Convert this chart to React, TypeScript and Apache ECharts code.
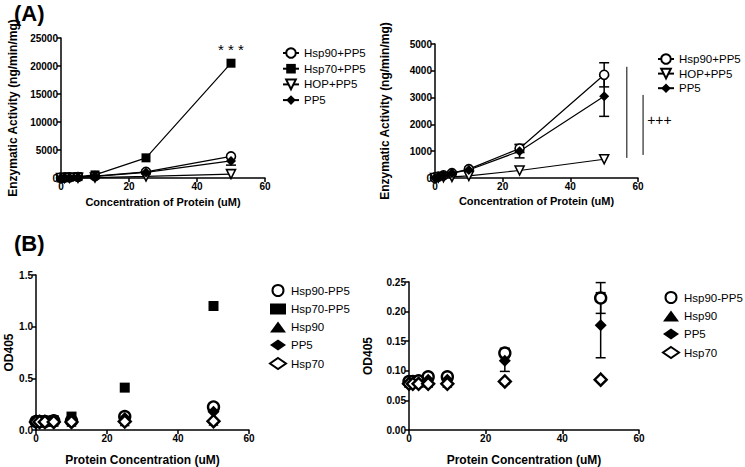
import React, { useEffect, useRef } from "react";
import * as echarts from "echarts";

const FF = "'Liberation Sans', Arial, sans-serif";

// concentrations (uM)
const conc = [0, 1, 2.5, 5, 10, 25, 50];

// Panel A — enzymatic activity (ng/min/mg)
const aHsp90PP5 = [0, 50, 100, 180, 330, 1100, 3850];
const aHsp70PP5 = [0, 80, 150, 250, 550, 3600, 20500];
const aHopPP5 = [0, 20, 30, 40, 80, 280, 700];
const aPP5 = [0, 50, 100, 180, 300, 1000, 3050];
const aHsp90PP5Err = [0, 0, 0, 0, 0, 150, 450];
const aPP5Err = [0, 0, 0, 0, 0, 250, 750];

// Panel B — OD405
const bHsp90PP5 = [0.082, 0.082, 0.083, 0.09, 0.09, 0.13, 0.223];
const bHsp70PP5 = [0.08, 0.085, 0.09, 0.095, 0.13, 0.41, 1.2];
const bHsp90 = [0.08, 0.08, 0.08, 0.08, 0.08, 0.085, 0.09];
const bPP5 = [0.08, 0.08, 0.08, 0.085, 0.085, 0.117, 0.177];
const bHsp70 = [0.078, 0.078, 0.078, 0.078, 0.078, 0.082, 0.085];
const bHsp90PP5Err = [0, 0, 0, 0, 0, 0.008, 0.026];
const bPP5Err = [0, 0, 0, 0, 0, 0.018, 0.055];

const pts = (ys: number[]) => conc.map((c, i) => [c, ys[i]]);

const openStyle = { color: "#fff", borderColor: "#000", borderWidth: 1.6, opacity: 1 };
const fillStyle = { color: "#000", borderColor: "#000", borderWidth: 0, opacity: 1 };

function lineSeries(name: string, ys: number[], gi: number, symbol: string, open: boolean, rotate = 0, size = 9) {
  return {
    type: "line",
    name,
    xAxisIndex: gi,
    yAxisIndex: gi,
    data: pts(ys),
    symbol,
    symbolSize: size,
    symbolRotate: rotate,
    showAllSymbol: true,
    clip: false,
    itemStyle: open ? openStyle : fillStyle,
    lineStyle: { color: "#000", width: 1.2 },
    z: 3,
  };
}

function scatterSeries(name: string, ys: number[], gi: number, symbol: string, open: boolean, size = 10) {
  return {
    type: "scatter",
    name,
    xAxisIndex: gi,
    yAxisIndex: gi,
    data: pts(ys),
    symbol,
    symbolSize: size,
    clip: false,
    itemStyle: open ? { ...openStyle, borderWidth: 2.4 } : fillStyle,
    z: 3,
  };
}

function errSeries(gi: number, ys: number[], errs: number[]) {
  const data: number[][] = [];
  conc.forEach((c, i) => {
    if (errs[i] > 0) data.push([c, ys[i] - errs[i], ys[i] + errs[i]]);
  });
  return {
    type: "custom",
    xAxisIndex: gi,
    yAxisIndex: gi,
    data,
    silent: true,
    clip: false,
    z: 2,
    encode: { x: 0, y: [1, 2] },
    renderItem: (params: any, api: any) => {
      const x = api.value(0);
      const lo = api.coord([x, api.value(1)]);
      const hi = api.coord([x, api.value(2)]);
      const w = 5;
      const style = { stroke: "#000", lineWidth: 1.5, fill: "none" };
      return {
        type: "group",
        children: [
          { type: "line", shape: { x1: lo[0], y1: lo[1], x2: hi[0], y2: hi[1] }, style },
          { type: "line", shape: { x1: lo[0] - w, y1: lo[1], x2: lo[0] + w, y2: lo[1] }, style },
          { type: "line", shape: { x1: hi[0] - w, y1: hi[1], x2: hi[0] + w, y2: hi[1] }, style },
        ],
      };
    },
  };
}

const axisLine = { show: true, onZero: false, lineStyle: { color: "#000", width: 1.5 } };
const axisTick = { show: true, length: 4, inside: false, lineStyle: { color: "#000", width: 1.5 } };
const tickLabel = { color: "#000", fontWeight: "bold", fontSize: 10, fontFamily: FF, margin: 3 };
const nameStyle = (size: number) => ({ color: "#000", fontWeight: "bold", fontSize: size, fontFamily: FF });

function xAxis(gi: number, name: string, gap: number, nameSize: number) {
  return {
    type: "value",
    gridIndex: gi,
    min: 0,
    max: 60,
    interval: 20,
    name,
    nameLocation: "middle",
    nameGap: gap,
    nameTextStyle: nameStyle(nameSize),
    axisLine,
    axisTick,
    axisLabel: { ...tickLabel, formatter: (v: number) => String(v) },
    splitLine: { show: false },
  };
}

function yAxis(gi: number, name: string, max: number, interval: number, gap: number, nameSize: number, fmt: (v: number) => string) {
  return {
    type: "value",
    gridIndex: gi,
    min: 0,
    max,
    interval,
    name,
    nameLocation: "middle",
    nameGap: gap,
    nameTextStyle: nameStyle(nameSize),
    axisLine,
    axisTick,
    axisLabel: { ...tickLabel, formatter: fmt },
    splitLine: { show: false },
  };
}

const legendText = { fontSize: 11.5, fontFamily: FF, color: "#000" };
const stripSuffix = (n: string) => n.replace("_B", "");
const plain = (v: number) => String(v);

export default function App() {
  const ref = useRef<HTMLDivElement>(null);
  useEffect(() => {
    document.body.style.margin = "0";
    const chart = echarts.init(ref.current!, undefined, { renderer: "svg" });
    const option: any = {
      animation: false,
      backgroundColor: "#fff",
      grid: [
        { left: 61, top: 38, width: 204, height: 140 },
        { left: 435, top: 44, width: 203, height: 134 },
        { left: 36, top: 275, width: 213, height: 155 },
        { left: 409, top: 282, width: 230, height: 150 },
      ],
      xAxis: [
        xAxis(0, "Concentration of Protein (uM)", 18, 11),
        xAxis(1, "Concentration of Protein (uM)", 17, 11),
        xAxis(2, "Protein Concentration (uM)", 24, 12),
        xAxis(3, "Protein Concentration (uM)", 24, 12),
      ],
      yAxis: [
        yAxis(0, "Enzymatic Activity (ng/min/mg)", 25000, 5000, 42, 12, plain),
        yAxis(1, "Enzymatic Activity (ng/min/mg)", 5000, 1000, 44, 12, plain),
        yAxis(2, "OD405", 1.5, 0.5, 17, 12, (v: number) => v.toFixed(1)),
        yAxis(3, "OD405", 0.25, 0.05, 35, 12, (v: number) => v.toFixed(2)),
      ],
      legend: [
        {
          data: ["Hsp90+PP5", "Hsp70+PP5", "HOP+PP5", "PP5"],
          orient: "vertical",
          left: 277,
          top: 42,
          itemWidth: 16,
          itemHeight: 12,
          itemGap: 3.7,
          selectedMode: false,
          textStyle: legendText,
        },
        {
          data: ["Hsp90+PP5", "HOP+PP5", "PP5"],
          orient: "vertical",
          left: 652,
          top: 48,
          itemWidth: 16,
          itemHeight: 12,
          itemGap: 2.6,
          selectedMode: false,
          textStyle: legendText,
        },
        {
          data: ["Hsp90-PP5", "Hsp70-PP5", "Hsp90", "PP5_B", "Hsp70"],
          orient: "vertical",
          left: 264,
          top: 279,
          itemWidth: 16,
          itemHeight: 11,
          itemGap: 6,
          selectedMode: false,
          formatter: stripSuffix,
          textStyle: legendText,
        },
        {
          data: ["Hsp90-PP5", "Hsp90", "PP5_B", "Hsp70"],
          orient: "vertical",
          left: 657,
          top: 286,
          itemWidth: 16,
          itemHeight: 11,
          itemGap: 6,
          selectedMode: false,
          formatter: stripSuffix,
          textStyle: legendText,
        },
      ],
      series: [
        // Panel A left
        lineSeries("Hsp90+PP5", aHsp90PP5, 0, "circle", true),
        lineSeries("Hsp70+PP5", aHsp70PP5, 0, "rect", false),
        lineSeries("HOP+PP5", aHopPP5, 0, "triangle", true, 180),
        lineSeries("PP5", aPP5, 0, "diamond", false, 0, 10),
        errSeries(0, aPP5, aPP5Err),
        // Panel A right
        errSeries(1, aHsp90PP5, aHsp90PP5Err),
        errSeries(1, aPP5, aPP5Err),
        lineSeries("Hsp90+PP5", aHsp90PP5, 1, "circle", true),
        lineSeries("HOP+PP5", aHopPP5, 1, "triangle", true, 180),
        lineSeries("PP5", aPP5, 1, "diamond", false, 0, 10),
        // Panel B left
        scatterSeries("Hsp90-PP5", bHsp90PP5, 2, "circle", true, 11),
        scatterSeries("Hsp70-PP5", bHsp70PP5, 2, "rect", false),
        scatterSeries("Hsp90", bHsp90, 2, "triangle", false),
        scatterSeries("PP5_B", bPP5, 2, "diamond", false, 12),
        scatterSeries("Hsp70", bHsp70, 2, "diamond", true, 12),
        // Panel B right
        errSeries(3, bHsp90PP5, bHsp90PP5Err),
        errSeries(3, bPP5, bPP5Err),
        scatterSeries("Hsp90-PP5", bHsp90PP5, 3, "circle", true, 11),
        scatterSeries("Hsp90", bHsp90, 3, "triangle", false),
        scatterSeries("PP5_B", bPP5, 3, "diamond", false, 12),
        scatterSeries("Hsp70", bHsp70, 3, "diamond", true, 12),
      ],
    };
    chart.setOption(option);

    const px = (gi: number, v: number[]) => chart.convertToPixel({ gridIndex: gi }, v) as number[];
    const star = px(0, [50, 23000]);
    const plus = px(1, [62.7, 2160]);
    const l1a = px(1, [56.7, 4150]);
    const l1b = px(1, [56.7, 750]);
    const l2a = px(1, [61.5, 3100]);
    const l2b = px(1, [61.5, 860]);
    chart.setOption({
      graphic: [
        { type: "text", left: 14, top: 2, style: { text: "(A)", font: `bold 22px ${FF}`, fill: "#000" } },
        { type: "text", left: 14, top: 232, style: { text: "(B)", font: `bold 22px ${FF}`, fill: "#000" } },
        {
          type: "text",
          x: star[0],
          y: star[1],
          style: { text: "* * *", font: `15px ${FF}`, fill: "#000", align: "center", verticalAlign: "middle" },
        },
        {
          type: "text",
          x: plus[0],
          y: plus[1],
          style: { text: "+++", font: `14px ${FF}`, fill: "#000", align: "left", verticalAlign: "middle" },
        },
        { type: "line", shape: { x1: l1a[0], y1: l1a[1], x2: l1b[0], y2: l1b[1] }, style: { stroke: "#000", lineWidth: 1 } },
        { type: "line", shape: { x1: l2a[0], y1: l2a[1], x2: l2b[0], y2: l2b[1] }, style: { stroke: "#000", lineWidth: 1 } },
      ],
    });
    return () => chart.dispose();
  }, []);
  return <div ref={ref} style={{ width: 745, height: 467 }} />;
}
